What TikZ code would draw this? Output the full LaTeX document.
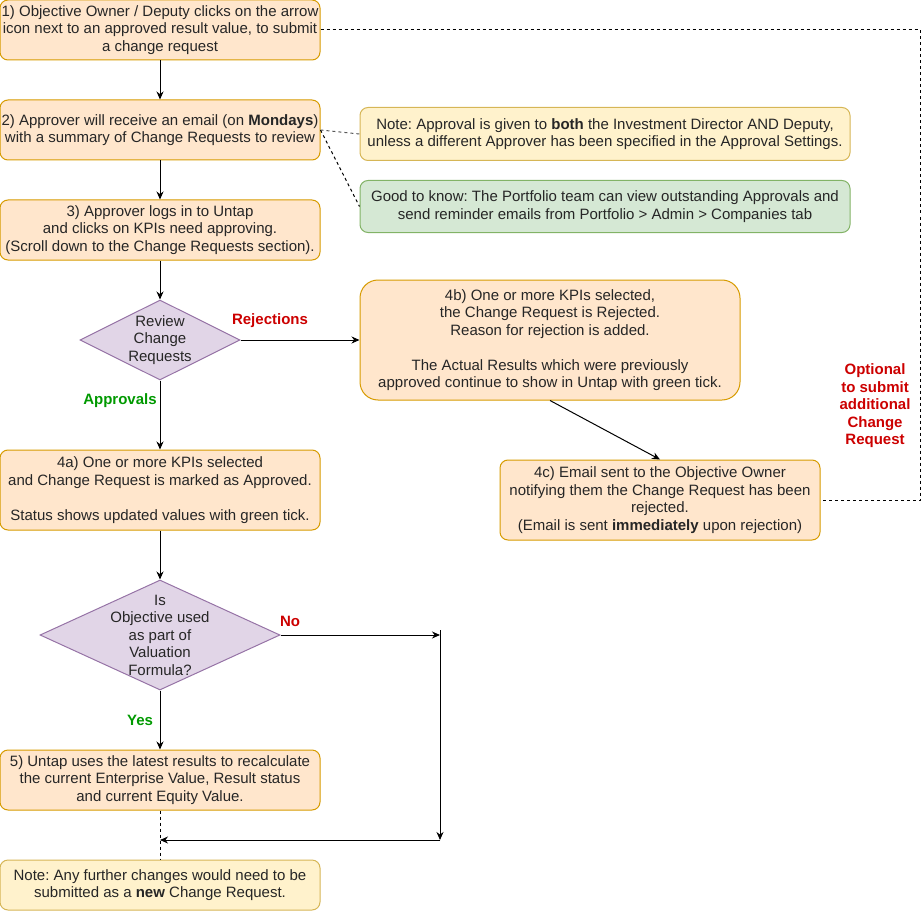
\documentclass[tikz,border=0pt]{standalone}
\usepackage{fontspec}
\setmainfont{Liberation Sans}
\frenchspacing
\usetikzlibrary{shapes.geometric,arrows.meta}
\definecolor{orfill}{HTML}{FFE6CC}
\definecolor{ordraw}{HTML}{D79B00}
\definecolor{yefill}{HTML}{FFF2CC}
\definecolor{yedraw}{HTML}{D6B656}
\definecolor{grfill}{HTML}{D5E8D4}
\definecolor{grdraw}{HTML}{82B366}
\definecolor{pufill}{HTML}{E1D5E7}
\definecolor{pudraw}{HTML}{9673A6}
\definecolor{redtxt}{HTML}{CC0000}
\definecolor{greentxt}{HTML}{009900}

\begin{document}
\begin{tikzpicture}[x=1pt, y=-1pt, line width=1pt, font=\fontsize{15}{17.5}\selectfont,
   box/.style={draw=ordraw, fill=orfill, rounded corners=8pt, minimum width=320pt,
               minimum height=60pt, inner sep=0pt, align=center, text=black!85},
   note/.style={box, draw=yedraw, fill=yefill},
   tip/.style={box, draw=grdraw, fill=grfill},
   choice/.style={diamond, draw=pudraw, fill=pufill, inner sep=0pt},
   nolbl/.style={text=redtxt, font=\fontsize{15}{17.5}\selectfont\bfseries},
   yeslbl/.style={text=greentxt, font=\fontsize{15}{17.5}\selectfont\bfseries},
   arr/.style={-{Stealth[length=8pt,width=7pt]}},
   dotline/.style={dash pattern=on 3pt off 3pt}]
 \useasboundingbox (0,0) rectangle (923,912);
 % left column
 \node (1) [box] at (160,30) {1) Objective Owner / Deputy clicks on the arrow\\icon next to an approved result value, to submit\\a change request};
 \node (2) [box] at (160,130) {2) Approver will receive an email (on \textbf{Mondays})\\with a summary of Change Requests to review};
 \node (3) [box] at (160,230) {3) Approver logs in to Untap\\and clicks on KPIs need approving.\\(Scroll down to the Change Requests section).};
 \node (r) [choice, minimum width=160pt, minimum height=80pt,
            label={[align=center, text=black!85]center:{Review\\Change\\Requests}}] at (160,340) {};
 \node (4a) [box, minimum height=80pt] at (160,490) {4a) One or more KPIs selected\\and Change Request is marked as Approved.\\[17.5pt]Status shows updated values with green tick.};
 \node (v) [choice, minimum width=240pt, minimum height=110pt,
            label={[align=center, text=black!85]center:{Is\\Objective used\\as part of\\Valuation\\Formula?}}] at (160,635) {};
 \node (5) [box] at (160,780) {5) Untap uses the latest results to recalculate\\the current Enterprise Value, Result status\\and current Equity Value.};
 \node (n) [note, minimum height=50pt] at (160,885) {Note: Any further changes would need to be\\submitted as a \textbf{new} Change Request.};
 % right column
 \node (a) [note, minimum width=490pt, minimum height=53pt] at (605,134) {Note: Approval is given to \textbf{both} the Investment Director AND Deputy,\\unless a different Approver has been specified in the Approval Settings.};
 \node (g) [tip, minimum width=490pt, minimum height=52pt] at (605,206.5) {Good to know: The Portfolio team can view outstanding Approvals and\\send reminder emails from Portfolio > Admin > Companies tab};
 \node (4b) [box, minimum width=380pt, minimum height=120pt, rounded corners=18pt] at (550,340) {4b) One or more KPIs selected,\\the Change Request is Rejected.\\Reason for rejection is added.\\[17.5pt]The Actual Results which were previously\\approved continue to show in Untap with green tick.};
 \node (4c) [box, minimum height=80pt] at (660,500) {4c) Email sent to the Objective Owner\\notifying them the Change Request has been\\rejected.\\(Email is sent \textbf{immediately} upon rejection)};
 % branch labels
 \node (rej) [nolbl] at (270,321) {Rejections};
 \node (app) [yeslbl] at (120,401) {Approvals};
 \node (no) [nolbl] at (290,621) {No};
 \node (yes) [yeslbl] at (140,720) {Yes};
 \node (opt) [nolbl, align=center] at (875,406) {Optional\\to submit\\additional\\Change\\Request};
 % bends
 \coordinate (k0) at (440,630);
 \coordinate (k1) at (440,635);
 \coordinate (k2) at (440,840);
 \coordinate (k3) at (160,840);
 \coordinate (d1) at (920,30);
 \coordinate (d2) at (920,500);
 % connectors
 \draw[arr] (1) -- (2);
 \draw[arr] (2) -- (3);
 \draw[arr] (3) -- (r);
 \draw[arr] (r) -- (4b);
 \draw[arr] (r) -- (4a);
 \draw[arr] (4b.south) -- (4c.north);
 \draw[arr] (4a) -- (v);
 \draw[arr] (v) -- (k1);
 \draw[arr] (k0) -- (k2);
 \draw[arr] (k2) -- (k3);
 \draw[arr] (v) -- (5);
 \draw[dotline] (5) -- (n);
 \draw[dotline] (1) -- (d1) -- (d2) -- (4c);
 \draw[dotline, black!65] (2.east) -- (a.west);
 \draw[dotline] (2.east) -- (g.west);
\end{tikzpicture}
\end{document}
